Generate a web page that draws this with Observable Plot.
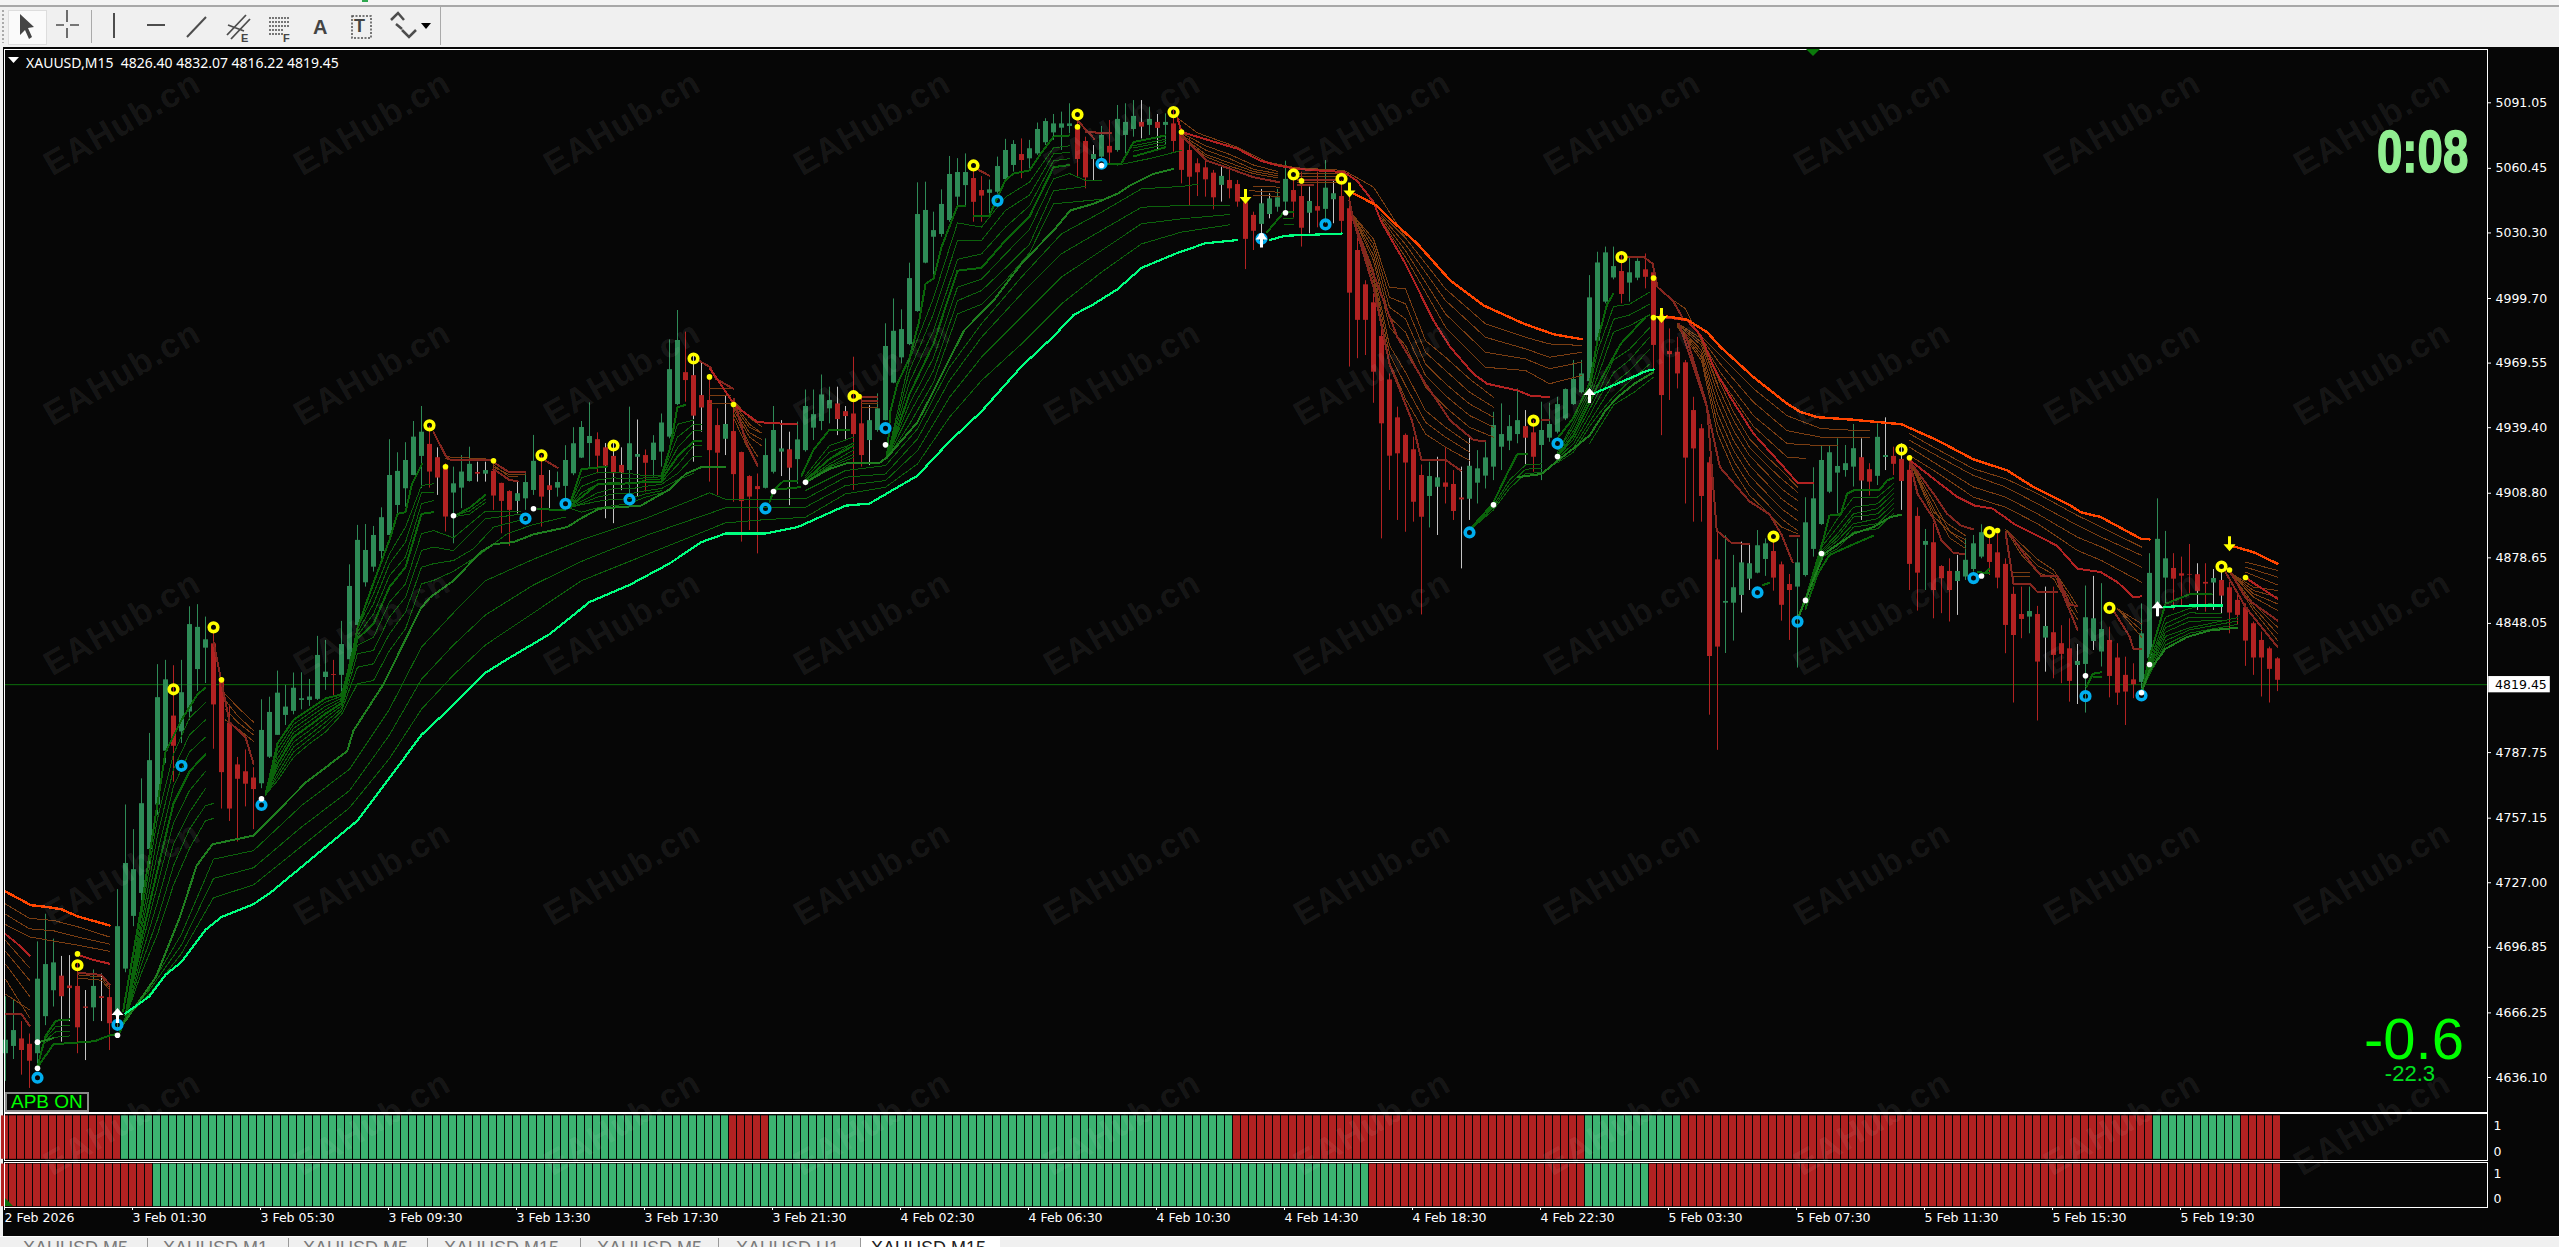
<!DOCTYPE html>
<html><head><meta charset="utf-8">
<script src="https://cdn.jsdelivr.net/npm/d3@7"></script>
<script src="https://cdn.jsdelivr.net/npm/@observablehq/plot@0.6"></script>
<style>
html,body{margin:0;padding:0;background:#f0f0f0;width:2559px;height:1247px;overflow:hidden}
#page{position:relative;width:2559px;height:1247px;overflow:hidden;font-family:"Liberation Sans",sans-serif}
#page>*{position:absolute}
.wm{font:bold 34px "Liberation Sans";letter-spacing:1.5px;color:rgba(255,255,255,.085);transform:translate(-50%,-50%) rotate(-30deg);white-space:nowrap;pointer-events:none}
.tab{font:18px "Liberation Sans";color:#7a7a7a;white-space:nowrap;top:1238px;line-height:20px}
svg{overflow:visible}
</style></head><body><div id="page"></div>
<script>
// ---- candles, bar 0 = 2 Feb 2026, one bar every 15 minutes ----
const bodyTop=[4653.5,4658,4654.1,4651.6,4682,4688.8,4689.6,4683.4,4678.8,4678.6,
4669,4678.6,4673.8,4673.4,4706.5,4736,4733.1,4763.9,4784,4813.4,
4821.7,4804.8,4815.7,4847.5,4846.2,4840.4,4838.5,4821.7,4801.5,4782,
4778.8,4775.9,4798.1,4806.5,4815.5,4809,4817.8,4812.9,4813.7,4833.1,
4825.3,4824.2,4838.2,4865.3,4886.8,4882.1,4889.1,4897.4,4917.1,4919,
4924.1,4935,4937.3,4931.6,4925.4,4921,4913.2,4918.7,4922.3,4918.5,
4919.4,4919,4913.4,4909.6,4908.6,4913.8,4923.7,4917.1,4912.3,4913.8,
4924.1,4931.9,4939.5,4935.3,4933.8,4930,4926,4921.8,4931.9,4926.9,
4926.4,4932.2,4941.6,4966.5,4980.1,4965.1,4963.7,4954.4,4952.1,4940.4,
4940.9,4937.6,4927.8,4916.6,4911.9,4926.4,4938.1,4929.5,4929.1,4933.7,
4949.3,4945.5,4954.7,4952.1,4950.5,4946.9,4945.8,4941.2,4942.7,4948.2,
4977.3,4984.4,4985.2,5009,5038.9,5040.8,5031.4,5043.6,5057.6,5058.5,
5058.5,5055.7,5050.1,5050.4,5061.3,5068.8,5071.6,5066.9,5069.6,5078.6,
5082.3,5081.2,5081.2,5081.2,5079.7,5073,5066.9,5075.8,5070.7,5083.3,
5081.9,5084.7,5081.9,5083.3,5081.9,5081.9,5081.2,5077.4,5068.8,5062.6,
5060.7,5058.2,5056.7,5054.8,5052.9,5044.4,5038.5,5043.9,5046.2,5046.7,
5055.3,5050.1,5047.3,5045,5042.6,5051.2,5048.6,5047.3,5041.6,5022.1,
5006.1,4997.7,4982,4961.7,4944,4935.8,4929.1,4917.1,4916.6,4916,
4913.6,4912.9,4906.6,4921.4,4920.2,4925.3,4940.4,4936.2,4939.9,4942.7,
4939.9,4937,4938.1,4940.9,4950.2,4957.2,4961.9,4964.5,5000,5016.3,
5021,5014.6,5012.3,5011.7,5017,5013.1,5011.7,4992,4975,4974.6,
4969.7,4947.4,4938.9,4923,4877.7,4858.3,4864.7,4876.3,4875.9,4884.3,
4885.2,4881.6,4875.4,4866.2,4876.3,4895,4906.2,4924.1,4927.7,4921.3,
4922.6,4929.6,4925.4,4919.8,4934.9,4926.4,4926,4924.6,4919.5,4898,
4886.3,4885.7,4874.6,4872.3,4872.3,4877.5,4885.2,4890.4,4884.9,4881,
4875.6,4861.6,4852.2,4853.6,4852.2,4846.6,4843.7,4838.6,4836.2,4830.3,
4850.7,4850.2,4845.2,4840.1,4831.9,4823.8,4821.7,4843.2,4871.4,4887.3,
4878.2,4873.7,4871.2,4870.9,4870.8,4867.2,4869,4868.1,4864.7,4858.8,
4855.4,4847.9,4840.1,4836.2,4831.5];
const bodyBottom=[4647.2,4650.6,4648.7,4643.7,4647.2,4664.5,4676.6,4673.8,4677.6,4659.3,
4668.4,4668.6,4673,4661.2,4664.5,4686.7,4711.3,4722,4742.5,4763.3,
4788.4,4790.7,4797.4,4806.7,4826.5,4836.5,4810,4778.4,4761.4,4775.3,
4773,4770.5,4773.2,4785.6,4795.8,4805.1,4807,4812.1,4812.1,4812.6,
4822.8,4823.8,4823.8,4831.1,4847.1,4867,4874.3,4881.6,4889.1,4903.1,
4910.9,4917.1,4926,4918.7,4915.9,4897.7,4908.9,4911.2,4914.3,4917.7,
4917.7,4907.5,4905,4900.8,4905,4906.2,4910.1,4907,4910.1,4911.2,
4912,4917.9,4925.2,4932,4926.1,4921.5,4917.9,4918.2,4919.4,4925.6,
4922.8,4924.1,4928,4935,4950.2,4961.4,4944.8,4948.6,4928.7,4927.5,
4934,4917.5,4904.9,4907,4910.5,4911.1,4918.6,4928,4920.5,4924.5,
4928.7,4939.2,4942.3,4948.2,4943.2,4944.6,4936.2,4926.4,4933.4,4938.1,
4942.7,4960.2,4972,4978.2,4993.6,5016.2,5028.3,5029.6,5036.1,5047,
5052.4,5044.6,5047.5,5048.8,5049.3,5055.2,5061.8,5064.1,5064.9,5067.2,
5072.4,5077,5079.2,5080,5064.6,5056,5064.6,5065.7,5067.6,5068.8,
5075.8,5078.6,5079.7,5080.5,5079.1,5080.5,5073,5059.5,5056.3,5058.4,
5055.1,5046.7,5052.5,5050.9,5044.7,5027.3,5031.1,5034.3,5038.9,5042.3,
5044.7,5044.7,5032.5,5039.5,5040.5,5041.3,5045.8,5035.7,5002.2,4989.5,
4989.5,4965.3,4941.2,4926.1,4927.2,4922.9,4904.6,4897.6,4907.3,4911.6,
4911.6,4900.3,4905.7,4906,4913.5,4916.8,4921,4930.3,4933.1,4936.2,
4934.5,4925.6,4931.1,4934.5,4937.3,4943.5,4950.2,4955.7,4961,4979.8,
4998,5009.3,5001.6,5006.9,5009.2,5009.6,4977.8,4954.4,4973.5,4964.5,
4925.2,4929.5,4907.3,4832.6,4837,4857.5,4857.5,4861.1,4868.7,4871.5,
4877.9,4869.2,4856.5,4863.4,4865,4870.4,4882.6,4894.2,4909.3,4918.2,
4919.4,4921,4914.5,4914,4916.7,4925.5,4922.3,4914.3,4875.6,4871.5,
4884.5,4863.4,4868.9,4863.4,4867.6,4869.7,4873.2,4879,4876.5,4869.2,
4847.1,4842.4,4849.9,4851,4830,4841.2,4833.1,4833.6,4821,4828.4,
4828.9,4839.6,4834.7,4823.3,4815.5,4816,4819.4,4820.5,4831.6,4857.2,
4869.2,4868.7,4870.1,4870.6,4863,4866.4,4866.9,4860.8,4852.9,4851.8,
4839.8,4831.9,4831.9,4826.6,4821.5];
const highs=[4673.8,4672.2,4662.2,4656.4,4699.4,4712.3,4700.7,4692.6,4693,4690,
4676.7,4686.3,4684.4,4678.6,4723.8,4763.3,4751.8,4775.5,4796.7,4828.8,
4830.8,4828.3,4830.8,4855.8,4856.8,4851,4844.3,4821.7,4810,4785.5,
4789,4780.7,4812.4,4813.6,4825.8,4819.1,4824.9,4825,4821.9,4842,
4840.1,4830.8,4849,4875.4,4893.8,4894.2,4893.3,4902,4933.8,4927.7,
4932.4,4942.3,4949.3,4940,4930,4922.6,4921,4926.4,4930.3,4923.3,
4923.3,4924,4913.5,4910,4914,4917.9,4935.8,4926.4,4919.4,4918.7,
4931,4939.4,4942.3,4951,4937,4932,4932,4930,4949,4943,
4929,4935.7,4945.8,4980.4,4994.1,4984,4973.8,4970,4963.3,4948.2,
4954.4,4950.2,4928,4917,4917.8,4934.2,4949.3,4942.7,4937.3,4942,
4957,4957,4964,4958.3,4958.3,4949.3,4972.3,4953.6,4949.7,4955.2,
4987.9,4999.5,4994.4,5016.2,5053.7,5054,5040,5050.4,5066,5065,
5067.2,5059.7,5056.6,5055,5065.7,5074,5073.4,5074.2,5073.5,5081.6,
5083.6,5085.6,5086.7,5090.6,5082,5075,5071.1,5080,5082.8,5089.8,
5090.6,5092.1,5092.1,5089,5085.6,5085.9,5087.5,5078.1,5075,5064.9,
5064.4,5059.5,5061.8,5061,5054.8,5050.1,5040,5050.6,5048.6,5050.6,
5063.8,5054.8,5058.7,5051.7,5058.7,5064.1,5054.8,5054.8,5047,5028,
5008,5001.9,4984.8,4964.5,4949,4936.5,4935,4922,4923.3,4925.6,
4930.3,4919.4,4921,4935,4928.7,4932.6,4946.6,4950.5,4945.1,4957.5,
4947.4,4942.7,4951.3,4950.8,4953.6,4957.5,4970.8,4970.8,5010.4,5021.3,
5023.7,5023.7,5020.5,5018.7,5018.2,5020.5,5012,4994.1,4985.5,4981.6,
4970.8,4953.6,4940.9,4925.6,4890,4889,4879.8,4886,4885.2,4891.4,
4887.5,4886.8,4876.7,4870.9,4887.5,4906.7,4920.7,4930.7,4931,4934.2,
4931.1,4940.9,4934.2,4922.6,4941.2,4944,4930.3,4931.9,4925,4902,
4891.9,4894.6,4875,4878.2,4879.8,4887.6,4889.1,4894.1,4888.3,4889.9,
4878.2,4865,4865,4865,4856,4865,4865,4847,4850.2,4838.2,
4865.5,4870,4866.6,4846.3,4838.6,4832.3,4829.2,4857.2,4880.6,4906.2,
4891,4880.6,4879,4884.9,4875.9,4875.9,4873.2,4872.8,4867.3,4861.1,
4857.2,4848.7,4844,4837,4832.07];
const lows=[4634.3,4644.5,4637.2,4631,4642,4660.3,4669,4652.6,4662.2,4647.2,
4644,4662.2,4662.2,4648.7,4658,4685,4706.5,4718,4735.4,4758.5,
4782.6,4773.9,4792,4802.8,4816.3,4820,4789.3,4761.4,4755.6,4746,
4762.4,4751.8,4770.9,4785,4795.8,4800.4,4805.4,4807.7,4809.3,4812.1,
4816.8,4813.6,4815.2,4831,4847,4865,4872,4875.9,4889,4899.2,
4902.3,4917,4911,4911.2,4907.8,4890.7,4885.2,4901.6,4914,4914,
4914,4900.8,4889.9,4884,4899.2,4900.8,4907.8,4893,4901.6,4907,
4905.4,4917,4925,4921,4917.9,4896.9,4894.6,4910,4908.6,4907,
4909.3,4916.3,4921,4934.2,4949.7,4951.3,4923.3,4937.3,4914,4907.7,
4926.4,4904.6,4886,4891.4,4880.5,4910.8,4917.8,4916.6,4903,4913,
4928,4933.4,4938,4941.2,4935.7,4933.4,4910.1,4921,4921.7,4937.3,
4942.6,4959.9,4969.2,4977.7,4993.3,5015.9,5010.4,5028.3,5035.3,5041.5,
5043.1,5035.3,5035.3,5039.2,5048.5,5054.8,5058.7,5055.6,5060.2,5066.5,
5071.1,5073.5,5068.8,5076.6,5056.3,5050.9,5054.5,5064.1,5062.6,5068,
5067.2,5075,5074.2,5075.8,5069.1,5071.1,5068,5053.2,5043.1,5047.3,
5047,5041.1,5044.7,5046.2,5042.3,5013.2,5022.1,5026,5036.9,5040,
5040.8,5036.9,5023.7,5029.9,5032.7,5034.6,5034.6,5029.1,4967.7,4971.6,
4973.1,4950.8,4887.5,4910.1,4896.1,4890.6,4895.3,4852,4892.6,4889.1,
4903.8,4896.1,4873.5,4896.1,4903.8,4910.8,4914.7,4919.4,4928.7,4931.9,
4921.7,4918.6,4914.7,4932.6,4936.5,4942.7,4949.8,4955.2,4960,4979.3,
4997.2,5008.4,4997.2,4998,5008,5004.2,4964.5,4935.7,4952.1,4957.5,
4903.8,4895.3,4895.3,4805.2,4788.8,4834,4839.8,4852.9,4863.4,4871.2,
4870,4863.1,4849.1,4840.1,4827.2,4869.7,4879,4893.8,4908.6,4899.2,
4916.3,4911.7,4896.1,4907.5,4912.4,4919.4,4917.1,4900.8,4863.4,4853.8,
4863.4,4850.2,4852.6,4848.7,4851.8,4868.1,4872,4878.2,4870.4,4864.2,
4833.9,4810.9,4840.9,4843.2,4802.5,4825.3,4822.2,4819.9,4811.3,4810.2,
4806.2,4835.4,4827.7,4813.3,4809.8,4800.4,4812.9,4815.2,4828.9,4851,
4857.2,4854.1,4856.4,4861.1,4854.1,4853.3,4854.1,4852.6,4843.2,4847.1,
4828,4823.8,4813.7,4810.9,4816.22];
const upBar=("ggrrgggrrr"+"rgrrgggggg"+"grggggrrrr"+"rrgggggggg"+"grgggggggg"+"gggrrrgggr"+"grrrgggrrg"+"ggggrrrrgg"+"rggggrrrrr"+"grrrrgggrg"+
"ggggrrrrgg"+"gggggggggg"+"grrggggrgg"+"ggggrrggrg"+"ggrgrgrrrr"+"rrgrrrrggg"+"grrgrggrrr"+"rrrrrrrrgg"+"rrrggggggg"+"rrgggggggg"+
"ggrggrrrrr"+"rrrrrggggg"+"grrrgggggg"+"ggrrggrrrr"+"grrrggggrr"+"rrrgrgrrrg"+"gggrrrrggg"+"grrrrrgrrr"+"rrrrr").split("");
const greyWickBars=[7,8,10,12,54,59,60,64,68,75,76,77,79,86,87,90,97,98,104,105,108,136,142,144,152,157,158,163,166,179,182,183,190,217,218,232,235,237,244,255,259,261,274,276,277];

// ---- slow ribbon line: bar, price pairs ----
const slowGreen=[[15,4666,18,4674,20,4684,22,4690,25,4705,27,4711,31,4717,33,4722,44,4756,47,4771,52,4796,56,4810,60,4825,63,4832,68,4843,73,4858,78,4866,83,4876,87,4886,90,4890,95,4890,99,4893,105,4903,108,4904,114,4917,116,4925,118,4933,122,4947,127,4968,131,4982,133.5,4992,136,4997,139,5004,142,5014,146.5,5021,150,5025.5,154,5027],
[158,5027,160,5029,167,5030],[198.6,4955.5,201.5,4960,205.2,4966,206,4966.6],[269.8,4855.7,273.1,4856.4,277.1,4856.4]];
const slowRed=[[0,4722.9,3.2,4716.5,5,4715.8,7,4714.6,9,4711.3,13,4707.1],
[168.6,5048.6,171.4,5043.1,173.5,5035.3,176.5,5025.2,180.6,5008.1,184.8,4996.4,189.8,4987.9,193.6,4982.9,197.1,4980.7],
[207.7,4991.3,210.2,4989.8,212.7,4984,214.4,4977,218.5,4963,222.7,4950.6,224.4,4946.7,226.5,4944.3,231,4943.1,237,4941,241.5,4933.5,246,4924.6,250.2,4919.5,253.5,4911.7,258.1,4903.1,259.4,4900,261.9,4897.7,266.9,4887.6,268,4887.3],
[278.5,4884,281,4881.3,284,4875.9]];

// ---- middle ribbon line ----
const midGreen=[[4,4652.5,6,4654.5],
[14.7,4661,18.8,4683,21.8,4711,23.9,4735,25.9,4745,31,4749,33,4756.6,37.6,4774,42.7,4788.4,43.5,4798,47.3,4820,51.9,4855,53.1,4860.3,56,4868,59.4,4881.3,61,4885,63.5,4886,66,4889.6,70.2,4893,71.9,4897,74.2,4901.6,79.4,4903,83.1,4910.8,85,4917.8,87,4921,90,4921],
[100,4913.9,103,4920.2,105.2,4922.8,109.2,4922.8,110.2,4925.6,114,4942,115.6,4953.6,119.8,4984.7,123.5,4998.7,127,5016,131,5031.4,133.1,5040.8,136,5043.9,139,5048.6,140.6,5052.5,143.5,5057.9,146,5060.2],
[189,4916.3,192,4917.8,193.8,4923.3,198,4935.7,200,4947.4,201.5,4953.6,203.6,4959.9,206,4965.3],
[224.2,4851.8,227.3,4880.5,231,4889.9,233.5,4893,235.6,4897.7,237,4898.8],
[267,4816,268,4826,270,4836.2,272.7,4841.7,275.6,4844.8,279,4846]];
const midRed=[[0,4703,1.4,4698.8,3,4693],[9,4693.4,11,4691,13,4689.2],
[88.1,4966.8,91.2,4949.7,94,4942,98.9,4940.9],
[146.5,5084,147,5077.4,150.6,5073.4,154,5069.6,156.8,5064.1,159,5061.8,161.4,5060.2,164,5059.5,167.3,5058.7,168.9,5054.8,171,5044.7,172,5035.3,175,5015.9,178.5,4989.4,180.6,4977,183.5,4964.5,185.2,4959.9,189,4956.8,190.6,4954.4,193,4953.6],
[207.3,4991,210.2,4989.5,211.9,4982.5,213.5,4967.7,215.6,4953.7,218.5,4936.6,221.9,4922.6,224,4913.7,226,4913.5],
[238.1,4924.1,241,4915.6,244,4907,246.1,4903.1,248.4,4901.6,250.2,4896.9,251,4894.6,253.5,4889.9,256.4,4884.4,259,4873.6,261.9,4872,264,4867.3,266,4860.3,267,4860.7],
[280,4869.4,284,4859.5]];

// ---- fast ribbon line and heavier inner lines ----
const fastGreen=[[4.2,4642,6,4651.6,11.1,4653,13.2,4656,14.2,4656.4,15,4664],[4,4641,5,4655.5,6.3,4662.6,8,4663.2],
[14.7,4667,17,4716,19,4764,20,4788,22,4803,24,4815,25,4818],[15,4665,17,4701,19,4733,21,4764,23,4779,25,4787],
[32.5,4768,34,4792,36,4803,38,4808,40,4813,42,4815,43,4826,44,4846,46,4867,48,4887,49,4899.2,50,4900,50.8,4913,52.1,4922.6],
[32.5,4768,34,4782.5,36,4795,38,4800.4,40,4805.9,42,4810.8,44,4840.9,46,4847.9,48,4865,50,4874.3,52,4899.2,53.5,4900],
[56.2,4898.4,58,4902,60,4908],[66.5,4901.5,70,4900.8],[70.4,4902,72,4920,75.2,4921.3],[70.4,4902,72,4907,74,4913,76,4913,80,4914,82,4914],
[82,4917,83,4929,84,4949,85,4950],[82,4915,84,4926,86,4933,87,4933],
[95.5,4904.6,96,4910,97.3,4914.7,99,4914.7],[96,4910.4,99.3,4911.6],
[99.5,4917,101,4929,103,4938.5,105.5,4938.5],[100,4915,103,4924.8,106,4931],
[110.2,4925.6,110.6,4947,111.5,4960,113,4972,114.2,4989,115,5006.5,116,5009,117,5023.6,119,5043,120,5043],
[110.2,4925,113,4955,116,4978.5,119,5012.7,122,5014,125,5026.8,128,5038,131,5061,133,5062],
[121,5038.4,123,5038.4,124,5047,125,5055,126,5058,128,5059.5,129.4,5067.2,131,5075.3,133,5075.8],
[137.3,5062.3,139.4,5062.3,141,5072.7,145,5075.8],[141,5066,145,5070.3],
[157.7,5030.7,159.8,5040,161,5040],
[183.3,4893,185.9,4903.8,187.7,4917.8,189,4927.2,190.2,4927.2],
[193.5,4932,196,4944,198,4960,199,4980,200.2,4997,201,5002],[194,4926,196,4936,198,4951,199,4959,201.9,4978.5,205,4991],
[224.2,4851.8,226,4869.6,228,4898.4,229.4,4899,230.2,4908.6,231,4910.1,234.2,4910.1,235.2,4914.8,236,4916],
[225,4855,226.5,4871,228,4880,231,4885,233.5,4889],
[219.7,4866,220.5,4867],[246.5,4872,248,4871.5],[247.2,4871,248,4873.6],[260.1,4818.4,260.9,4824.5,262,4825.3],[261,4823,262,4823],
[267,4816,268,4832.3,270,4857.2,273,4861.6,275.8,4861.6]];
const fastRed=[[0,4665.7,2,4665.7,3,4660.3],[9,4685,12,4684,13,4679.5],[26,4839.4,28,4801.9,30,4795,31,4782.6],
[53.5,4937.3,55,4926.5,55.6,4924.4,60.6,4924.4],[61,4923.3,62.9,4918.7,65,4918.7],[61,4920,63,4915,64.1,4914.3],[67.5,4924,69,4920.7],
[86.7,4970.7,88.1,4967.6,88.8,4962.2,91,4957.5],[91,4953,92.5,4933.4,94,4921.7],
[107,4953.6,109,4953.6],[107,4952,109,4952],[121.5,5060,123,5057],[134,5082.8,136.1,5074.2],[135,5077.3,138.2,5077],
[147,5075.8,150.2,5064,151.9,5061.8,156,5056.3,159.2,5054],
[161.5,5055,166.5,5055],[161.5,5052.5,163.5,5052.5],
[168,5045.4,168.5,5036.1,171,5005,173,4969.2,175.8,4942.7,177,4924.4,180,4924.4,181.9,4919.4],
[168.5,5036,171,5011,174,4981.6,177.3,4961,180.6,4942.7,183.5,4933.7,185,4933],
[192,4943,193,4943],[202.7,5019,204.8,5019,205.9,5015.9,206.5,5005,208.4,4998.8,209.6,4991],
[209.2,4987.9,212.7,4949,213.9,4891.4,215.8,4885.5,218,4885.2],
[210,4983,212.5,4952,214.3,4921,218,4905,220.5,4899,222,4889.5,223.4,4876.6],[223,4889,224.2,4889],
[238,4924,239,4908.6,241,4896.9,242,4886.8,243.5,4880.9,244.8,4880.5],[238,4924,241,4908.6,242.7,4899.2,244.4,4893.8,246,4891.9],
[250,4890.7,251,4866.6,253,4866.6,254,4862.7,256.4,4862.7],[256.5,4868,259,4845],[250.5,4890,253,4877,254.5,4870,256.5,4870,258,4857,259,4856],
[263.5,4854,265.5,4842,266,4836,267,4836],[277.5,4872,280,4855.7,284,4837],[278,4872.8,280,4860,284,4849.4]];

// ---- thin ribbon lines ----
const thinGreen=[[5,4654.5,6.3,4660,8,4660.3],[5,4653.5,6.3,4657.5,8,4657.5],[5,4652.6,6.3,4654.9,8,4655.5],
[15,4664,18,4675,22,4694,26,4720,31,4726,37,4744,43,4762,48,4785,52,4808,56,4824,60,4838,66,4853,72,4868,80,4880,90,4895,95,4896.5,100,4897.6,105,4908.5,110,4911.6,114,4922.5,118,4944.3,122,4961.4,127,4978.5,132,4997.2,137,5012,142,5025.2,147,5030.7,153,5034.1],
[15,4664,18,4677,22,4698,26,4729,31,4734,37,4753,43,4770,48,4796,52,4822,56,4838,60,4852,66,4866,72,4877,80,4889,90,4902,95,4902.3,100,4902.3,105,4912.4,110,4914.7,114,4928.7,118,4953.6,122,4972.3,127,4991,132,5009.7,137,5022.1,142,5034.6,147,5036.9,153,5038.9],
[15,4664,18,4678,22,4703,26,4738,31,4742,37,4763,43,4780,48,4808,52,4837,56,4853,60,4868,66,4878,72,4887,80,4897,88,4909,90,4906,95,4906,100,4906.2,105,4916.3,110,4917.8,114,4934.2,118,4961.4,122,4981.6,127,5001.9,132,5020.6,137,5031.5,142,5042.3,147,5043.1,153,5043.1],
[100,4910.1,105,4919.4,110,4921.7,114,4938.8,118,4967.6,122,4987.9,127,5009.7,132,5029.9,137,5040,142,5050.9,147,5052,149,5053],
[15,4666,17,4712,19,4757,21,4787,23,4804,25,4811],[15,4666,17,4708,19,4749,21,4780,23,4796,25,4803],[15,4665,17,4705,19,4741,21,4772,23,4788,25,4795],
[15,4665,17,4697,19,4726,21,4755,23,4770,25,4779],[15,4664,17,4693,19,4718,21,4745,23,4760,25,4771],[15,4664,17,4689,19,4710,21,4735,23,4752,25,4763,26,4764],[15,4664,17,4685,19,4703,21,4726,23,4743,25,4756,26,4757],
[32.5,4768,34,4789.5,36,4800.9,38,4806.2,40,4811.3,42,4814.1,44,4845.5,46,4861.9,48,4880.5,50,4893,52,4912.4,53.5,4913.2],
[32.5,4768,34,4787.2,36,4799,38,4804.3,40,4809.4,42,4813,44,4844,46,4857.2,48,4875.9,50,4886,52,4909.3,53.5,4909.3],
[32.5,4768,34,4784.8,36,4797.1,38,4802.4,40,4807.7,42,4812.1,44,4842.4,46,4852.5,48,4870.4,50,4879,52,4903.9,53.5,4905.4],
[32.5,4768,34,4780.2,36,4792.6,38,4798.1,40,4804,42,4809.6,44,4837.8,46,4841.6,48,4858,50,4866.5,52,4889.9,53.5,4891.4,56,4888,60,4900.5,64.4,4900.5],
[32.5,4768,34,4777.9,36,4790.3,38,4796,40,4802,42,4808.3,44,4833.9,46,4835.4,48,4851,50,4860.3,52,4882.1,53.5,4883.7,56,4882,60,4896.9,64.7,4899.2],
[32.5,4768,34,4776.3,36,4788,38,4794,40,4800,42,4807.1,44,4827.6,46,4829.2,48,4843.2,50,4853.3,52,4874.3,53.5,4875.9,56,4877.4,58.5,4882.9,61,4893,65,4896.9],
[32.5,4768,34,4774.7,36,4785.6,38,4791.9,40,4797.3,42,4805.5,44,4819.9,46,4821.4,48,4835.4,50,4845.5,52,4866.5,53.5,4868.1,56,4872.4,59.4,4880.5,62.7,4889.9,66,4894.2,70,4897.7],
[56.2,4898.4,58,4900.5,60,4906],[56.2,4898,58,4899,60,4904.5],
[70.4,4902,72,4916,74,4918.5,76,4918.5,78,4918,80,4917,82,4917],[70.4,4902,72,4912,74,4915,76,4916,78,4915.5,80,4916,82,4916.5],[70.4,4902,72,4909,74,4913,76,4914,78,4913,80,4915,82,4915.5],
[70.4,4902,72,4905,74,4909,76,4911,78,4910.8,80,4912,82,4913],[70.4,4902,72,4904,74,4907,76,4908.5,78,4908.5,80,4910,82,4911],[70.4,4902,72,4903.5,74,4905,76,4906,78,4906.2,80,4908.5,82,4910],[70.4,4902,72,4900,74,4902,76,4903,78,4904,80,4907,82,4909],
[82,4917,84,4941,86,4943],[82,4916.5,84,4935,86,4941,87,4941],[82,4916,84,4930,86,4938,87,4938],[82,4914,84,4922,86,4931,87,4931],[82,4913,84,4918,86,4926,87,4926],[82,4911,84,4915,86,4918],
[100,4917,103,4931,106,4935],[100,4916,103,4928,106,4932],[100,4915,103,4925,106,4932.5],[100,4915,103,4922.5,106,4929],[100,4914,103,4921.5,106,4927],[100,4914,103,4921,106,4925.5],
[110.2,4925.6,113,4971,116,5000,119,5035,122,5033,125,5047,128,5054,131,5070,133,5071],[110.2,4925,113,4966,116,4992.5,119,5026.7,122,5026.8,125,5040.8,128,5048,131,5067.2,133,5068],[110.2,4925,113,4960.6,116,4984.7,119,5018,122,5020.5,125,5033,128,5043,131,5064,133,5065],
[110.2,4925,113,4950.5,116,4972,119,5005,122,5008.7,125,5020.5,128,5032,131,5055.6,133,5058,135,5054.8,137,5054.8],[110.2,4925,113,4946,116,4966,119,4998.7,122,5003.4,125,5014,128,5025,131,5050,135,5052],[110.2,4925,113,4941,116,4960.6,119,4992.5,122,4997,125,5008,128,5021,131,5043.9,137,5046],
[141,5071,145,5074],[141,5070,145,5073],[141,5068.5,145,5071.5],[139,5062,143,5065,147,5068.8],
[159.8,5037,161,5037.3],[159.8,5034,161,5034.2],
[183.5,4893,186,4903,188,4915,190,4922,192,4922.5],[183.5,4893,186,4902,188,4913,190,4920,192,4920.5],[183.5,4893,186,4901,188,4911,190,4918,192,4918.5],
[194,4928,196,4942,198,4957,199,4975,201,4996,203,4997,205.5,5002.6],[194,4928,196,4940,198,4955,199,4968,201,4990,203,4992,205.5,4997],[194,4927,196,4938,198,4953,199,4963,201,4984,203,4987,205.5,4992],
[194,4926,196,4934,198,4948,199,4955,201,4971,203,4976,205.5,4986],[194,4925,196,4932,198,4945,199,4952,201,4965,203,4971,205.5,4981.6],[194,4924,196,4930,198,4942,199,4948,201,4960,203,4966,205.5,4976],[194,4923,196,4928,198,4940,199,4945,201,4954,203,4961,205.5,4969],
[198,4932,201,4950,203.6,4956,206,4963],
[225,4860,227,4885.2,229,4896.9,231,4907,234,4907,236,4913.2],[225,4860,227,4883.7,229,4893,231,4902.3,234,4903.9,236,4910.9],[225,4859,227,4882,229,4889.9,231,4899.2,234,4901.6,236,4908.6],[225,4859,227,4881.3,229,4888.3,231,4897.7,234,4899.2,236,4906.2],
[225,4859,227,4880.5,229,4886.8,231,4894.6,234,4896.9,236,4903.9],[225,4858,227,4879.8,229,4884.4,231,4893,234,4894.6,236,4901.6],[225,4858,227,4879,229,4882.9,231,4890.7,234,4892.2,236,4899.2],
[267,4816,268,4830,270,4851,273,4855,275.8,4857.5],[267,4816,268,4829,270,4848,273,4853,277,4852.5],[267,4816,268,4828,270,4846,273,4851,277,4851],[267,4816,268,4827,270,4844,273,4849,277,4849.5],
[267,4816,268,4826,270,4842,273,4846,279,4850.7],[267,4816,268,4825,270,4840,273,4845,279,4849.2],[267,4816,268,4824,270,4838,273,4843.5,279,4847.6]];
const thinRed=[[0,4717.1,3,4710.4,6,4709.4,9,4706.5,13,4701.7],[0,4712.3,3,4705.5,6,4704.6,9,4701.7,13,4698.4],[0,4707.5,3,4701.7,6,4699.8,9,4697.9,13,4695],
[0,4700,3,4687.3],[0,4695,3,4681.5],[0,4689,3,4674],[0,4682,3,4664],[0,4675,3,4667.7],[9,4684,12,4683,13,4678],[9,4682.5,12,4681.5,13,4677],
[27.5,4815,29,4809,31,4802],[27.5,4812,29,4805,31,4798],[27.5,4808,29,4802,31,4796],[27.5,4803,29,4799,31,4793],
[55,4926,56,4925.5,60,4925],[55,4925,56,4924,60,4924],[61,4922,63,4916.4,64,4916.4],[61,4921,63,4917.5,65,4917.5],
[88,4957.5,90.6,4957.5],[88,4954.4,90.6,4954.4],[88,4950.5,90.6,4950.5],
[91,4952,93,4944,94.5,4940],[91,4951,93,4941,94.5,4937],[91,4950,93,4939.5,94.5,4937],[91,4949,93,4937,94.5,4934],[91,4948,93,4935,94.5,4931],[91,4946,93,4932,94,4926],[91,4944,92.5,4932,93.5,4925],
[107,4950.5,109,4950.5],[107,4949,109,4949],
[146.5,5084,149,5077,154,5070.3,157.8,5063.3,161.4,5060.7,167.3,5059.5,171,5051.7,173,5040,175,5028],
[147,5077,150,5071,153,5067,156,5062,159,5059],[147,5076,150,5069,153,5065,156,5060,159,5058],[147,5075.5,150,5067,153,5063,156,5059,159,5057],[147,5075,150,5066,153,5061.5,156,5058,159,5056],
[156,5052,159.3,5051.7],[155.5,5050,159.3,5049.3],[156,5048,159.3,5047.3],
[161.5,5058,167,5057.8],[161.5,5056.5,167,5056.5],[161.5,5053.7,167,5053.7],
[168.5,5036.1,171,5008.1,173,4970,175,4952.9,177.5,4936.5,180,4930.3,183,4924.1],[168.5,5036.1,171,5010.4,173,4973.9,175,4959.1,177.5,4942,180,4935,183,4928],[168.5,5036.9,171,5012.8,173,4977.8,175,4965.3,177.5,4947.4,180,4939.6,183,4931.8],
[168.5,5037.7,171,5017.4,173,4986.3,175,4977.8,177.5,4958.3,180,4949,183,4939.6,186,4935],[168.5,5037.7,171,5019.8,173,4991,175,4984,177.5,4963.7,180,4954.4,183,4945.1,186,4939.6],[168.5,5037.7,171,5022.9,173,4995.6,175,4990.2,177.5,4969.2,180,4959.9,183,4950.5,186,4944.3],[168.5,5038.4,171,5025.2,173,5000.3,175,4997.2,177.5,4974.6,180,4966.1,183,4956,186,4949],[168.5,5038.4,171,5027.5,173,5005,175,5004.2,177.5,4980.1,180,4972.3,183,4962.2,186,4953.6],
[172,5039,175,5028,180,5004.2,185,4987.9,190,4981.6,193,4978.5,197,4977.8],[172,5038,175,5025,180,4998.8,185,4981.6,190,4976.2,193,4972.3,197,4974.6],[172,5037,175,5022,180,4992.5,185,4974.6,190,4971.5,193,4966.9,197,4970],[172,5036,175,5019,180,4986.3,185,4967.6,190,4966.1,193,4959.9,197,4963.7],
[206.5,5005,208.4,4999,210,4995,212,4980,214,4960],
[209,4986.4,212,4970.8,214,4936.6,216,4919.4,218,4907.8,220,4900.8,222,4893,224,4889.9],[209,4986.7,212,4972.3,214,4941.2,216,4924.1,218,4912.4,220,4904.7,222,4896.9,224,4891.4],[209,4987,212,4973.9,214,4945.9,216,4928.8,218,4917.1,220,4909.3,222,4901.6,224,4896.1],[209,4987.3,212,4975.5,214,4950.6,216,4933.4,218,4921.8,220,4914,222,4906.2,224,4900.8],
[209,4987.6,212,4977.8,214,4955.2,216,4938.1,218,4926.4,220,4918.7,222,4910.9,224,4905.4],[209,4987.9,212,4979.3,214,4959.1,216,4942.8,218,4930.3,220,4922.6,222,4915.6,224,4909.3],[209,4988.2,212,4980.9,214,4963,216,4946.7,218,4934.2,220,4926.4,222,4919.4,224,4911.7],
[212,4982,214.4,4973,218.5,4957.6,222.7,4945,226.9,4939,231,4938.2,233,4938],[212,4981,214.4,4969,218.5,4951.3,222.7,4938,226.9,4935,233,4935],[212,4980,214.4,4965,218.5,4945,222.7,4932,226.9,4931,229,4931],[212,4979,214.4,4962,218.5,4940,222.7,4925.7,225,4925],
[238,4936.6,241,4930.3,246,4920.2,250,4915.6,254,4908.6,259,4898.4,262,4893,267,4883.7],[238,4933.5,241,4927.2,246,4917.1,250,4911.7,254,4903.9,259,4893.8,262,4888.3,267,4879.8],[238,4930.3,241,4923.3,246,4911.7,250,4907,254,4899.2,259,4888.3,262,4883.7,267,4874.3],[238,4926.5,241,4919.5,246,4907,250,4902.3,254,4894.6,259,4882.1,262,4877.4,267,4867.3],
[238,4924,241,4905,243,4891,245,4885],[238,4924,241,4902,243,4888,245,4883],[238,4924,241,4900,243,4894,245,4889],[238,4924,241,4898,243,4891,245,4887],
[250,4892,252,4885,254,4878,256,4873,258,4862,259,4856],[250,4892,252,4883,254,4875,256,4871,258,4860,259,4853],[250,4892,252,4880,254,4872,256,4869,258,4856,259,4850],[251,4870,253,4870],[251,4872,253,4872],
[264,4854.9,267,4847.9],[264,4854.9,267,4844.8],[264,4854.9,267,4841.7],
[280,4876.7,284,4872.8],[280,4874.3,284,4869.7],[280,4872,284,4866],
[278,4872,281,4865,284,4863.4],[278,4872,281,4863.4,284,4860.3],[278,4872,281,4861.9,284,4857.2],[278,4872,281,4860.3,284,4854.1],[278,4872,281,4857.2,284,4846.3],[278,4872,281,4855.7,284,4843.2],[278,4872,281,4854.1,284,4840.1]];

// ---- signals: bar, price pairs ----
const yellowRings=[9,4688.5,21,4817.3,26,4846.2,53,4940.5,67,4926.5,76,4931.1,86,4971.7,106,4954.1,121,5061.8,134,5085.6,146,5086.7,161,5057.6,167,5055.6,191,4942.7,202,5019,221,4888.6,237,4929.2,248,4890.7,263,4855.3,277,4874.6];
const blueRings=[4,4636,14,4660.7,22,4781.6,32,4763.3,65,4897,70,4903.9,78,4905.9,95,4901.7,110,4939.2,124,5045.4,137,5062.6,157,5027.6,165,5034.3,183,4890.5,194,4932,219,4862.5,224,4848.9,246,4869.2,260,4814.1,267,4814.4];
const whiteDots=[4,4652.6,4,4640.4,14,4655.8,32,4766.2,56,4898.3,66,4901.6,96,4909.6,100,4913.9,110,4931.4,137,5061.8,160,5039.7,157,5029,186,4903.4,194,4925.9,225,4858.8,227,4880.7,247,4870.2,260,4823.6,268,4828.9,267,4815.7];
const yellowDots=[9,4693.8,27,4821.7,55,4921.2,61,4924,88,4963.1,91,4950.2,106.7,4953.9,134,5079.8,147,5077.4,162,5054.6,206,5009.3,206,4990.8,238,4925.4,249,4891.4,278,4873,280,4869.5];
const upArrows=[14,4665,157,5027,198,4954.4,269,4854.9];
const downArrows=[155,5047.3,168,5050.4,207,4991.8,278,4885.2];

// ---- axes and labels ----
const priceTicks=[5091.05,5060.45,5030.30,4999.70,4969.55,4939.40,4908.80,4878.65,4848.05,4787.75,4757.15,4727.00,4696.85,4666.25,4636.10];
const lastPrice=4819.45;
const timeTickBars=[0,16,32,48,64,80,96,112,128,144,160,176,192,208,224,240,256,272];
const timeLabels=["2 Feb 2026","3 Feb 01:30","3 Feb 05:30","3 Feb 09:30","3 Feb 13:30","3 Feb 17:30","3 Feb 21:30","4 Feb 02:30","4 Feb 06:30","4 Feb 10:30","4 Feb 14:30","4 Feb 18:30","4 Feb 22:30","5 Feb 03:30","5 Feb 07:30","5 Feb 11:30","5 Feb 15:30","5 Feb 19:30"];
// indicator state runs: first bar, last bar, state (1 = up)
const panel1Runs=[[0,14,0],[15,90,1],[91,95,0],[96,153,1],[154,197,0],[198,209,1],[210,268,0],[269,279,1],[280,284,0]];
const panel2Runs=[[0,18,0],[19,170,1],[171,197,0],[198,205,1],[206,284,0]];
const tabNames=["XAUUSD,M5","XAUUSD,M1","XAUUSD,M5","XAUUSD,M15","XAUUSD,M5","XAUUSD,H1","XAUUSD,M15"];

// ---- styling ----
const BULL="#2E8B57",BEAR="#B22222",BULL2="#3CB371",AXISFONT="'DejaVu Sans'";
const xScale={domain:[0,284],range:[5,2277],axis:null};
const bars=bodyTop.map((t,i)=>({i,top:t,bottom:bodyBottom[i],high:highs[i],low:lows[i],up:upBar[i]==="g",grey:greyWickBars.includes(i)}));
const pairs=a=>d3.range(0,a.length,2).map(k=>({i:a[k],p:a[k+1]}));
const ribbon=(lines,stroke,strokeWidth)=>Plot.line(lines.flatMap((a,id)=>pairs(a).map(d=>({...d,id}))),{x:"i",y:"p",z:"id",stroke,strokeWidth,shapeRendering:"crispEdges"});
// Wingdings-like block arrow: thin stem, broad head
const blockArrow={draw(c,l){c.moveTo(-1.5,0);c.lineTo(-1.5,-l+7);c.lineTo(-6,-l+7);c.lineTo(0,-l);c.lineTo(6,-l+7);c.lineTo(1.5,-l+7);c.lineTo(1.5,0);c.closePath();}};

const main=Plot.plot({
  width:2559,height:1113,marginTop:49,marginLeft:4,marginRight:72,marginBottom:1,
  x:xScale,
  y:{domain:[5091.05,4636.10],range:[102.3,1077],axis:null},
  style:{background:"transparent",fontFamily:AXISFONT,fontSize:"12.5px",color:"#fff"},
  marks:[
    Plot.ruleY([lastPrice],{stroke:"#0b6e0b",strokeWidth:1}),
    Plot.ruleX(bars,{x:"i",y1:"low",y2:"high",stroke:d=>d.grey?"#c4c4c4":(d.up?BULL:BEAR),strokeWidth:1}),
    Plot.rect(bars,{x1:d=>d.i-0.25,x2:d=>d.i+0.375,y1:"bottom",y2:"top",fill:d=>d.up?BULL:BEAR}),
    ribbon(thinGreen,"#0c620c",1),
    ribbon(thinRed,"#7a3d12",1),
    ribbon(fastGreen,"#0a650a",2),
    ribbon(fastRed,"#85261f",2),
    ribbon(midGreen,"#1f7f1f",2),
    ribbon(midRed,"#B22222",2),
    ribbon(slowGreen,"#00FF7F",2.2),
    ribbon(slowRed,"#FF4500",2.4),
    Plot.dot(pairs(yellowRings),{x:"i",y:"p",r:4.3,stroke:"#FFFF00",strokeWidth:3.6,fill:"none"}),
    Plot.dot(pairs(blueRings),{x:"i",y:"p",r:4.3,stroke:"#00AEEF",strokeWidth:3.6,fill:"none"}),
    Plot.dot(pairs(whiteDots),{x:"i",y:"p",r:2.8,fill:"#fff"}),
    Plot.dot(pairs(yellowDots),{x:"i",y:"p",r:2.8,fill:"#FFFF00"}),
    Plot.vector(pairs(upArrows),{x:"i",y:"p",length:15,rotate:0,anchor:"middle",shape:blockArrow,fill:"#fff",stroke:"none"}),
    Plot.vector(pairs(downArrows),{x:"i",y:"p",length:15,rotate:180,anchor:"middle",shape:blockArrow,fill:"#FFFF00",stroke:"none"}),
    Plot.axisY({anchor:"right",ticks:priceTicks,tickSize:3,tickPadding:5,tickFormat:d=>d.toFixed(2),stroke:"#fff",fill:"#fff",label:null,fontSize:12.5}),
    Plot.rect([lastPrice],{x1:310.4,x2:318.1,y1:d=>d-3.8,y2:d=>d+3.8,fill:"#fff"}),
    Plot.text([lastPrice],{x:311.2,y:d=>d,text:d=>d.toFixed(2),textAnchor:"start",fill:"#000",fontSize:12.5}),
    Plot.frame({stroke:"#fff"})
  ]
});
main.style.left="0";main.style.top="0";

function panel(runs,y1px,y0px,top,bottom,withAxis){
  const columns=runs.flatMap(([a,b,s])=>d3.range(a,b+1).map(i=>({i,s})));
  return Plot.plot({
    width:2559,height:withAxis?1240:bottom+1,marginTop:top,marginLeft:4,marginRight:72,marginBottom:withAxis?1240-bottom:1,
    x:xScale,
    y:{domain:[0,1],range:[y0px,y1px],axis:null},
    style:{background:"transparent",fontFamily:AXISFONT,fontSize:"12.5px",color:"#fff"},
    marks:[
      Plot.rect(columns,{x1:d=>d.i-0.5,x2:d=>d.i+0.375,y1:-0.3,y2:1.37,fill:d=>d.s?BULL2:BEAR}),
      Plot.axisY({anchor:"right",ticks:[0,1],tickSize:0,tickPadding:6,tickFormat:d=>String(d),stroke:"#fff",fill:"#fff",label:null,fontSize:12.5}),
      withAxis?Plot.axisX({anchor:"bottom",ticks:timeTickBars,tickSize:3,tickPadding:3,textAnchor:"start",tickFormat:d=>timeLabels[d/16],stroke:"#fff",fill:"#fff",label:null,fontSize:12.5,dx:-1}):null,
      Plot.frame({stroke:"#fff"})
    ]
  });
}
const p1=panel(panel1Runs,1125,1151,1113,1160,false);
const p2=panel(panel2Runs,1173,1198.5,1162,1207,true);

// ---- assemble the window ----
const page=document.getElementById("page");
page.innerHTML=`
<div style="left:0;top:0;width:2559px;height:5px;background:#f4f4f4;border-bottom:2px solid #a8a8a8"></div>
<div style="left:362px;top:0;width:6px;height:2px;background:#2fa84f"></div>
<svg style="left:0;top:7px" width="460" height="39" fill="none" stroke="#4d4d4d" stroke-width="2">
<line x1="3" y1="3" x2="3" y2="36" stroke="#aaa" stroke-dasharray="2 2"/>
<rect x="8.500" y="3.500" width="38" height="34" fill="#fafafa" stroke="#ddd" stroke-width="1"/>
<path d="M20 12 L20 33 L25 28 L29 37 L32 35 L28 26 L34 25 Z" transform="translate(0,-5)" fill="#444" stroke="none"/>
<path d="M67 10V22M67 28V38M56 25H64M70 25H79" transform="translate(0,-7)" stroke-width="1.600"/>
<line x1="91.500" y1="3" x2="91.500" y2="36" stroke="#aaa" stroke-width="1"/>
<path d="M114 13V38" transform="translate(0,-7)"/><path d="M147 18H165"/><path d="M187 30L206 10"/>
<path d="M227 28L246 8M231 32L250 12M228 18L244 24" stroke-width="1.800"/>
<path d="M269 11H289M269 15H289M269 19H289M269 23H283M269 27H283" stroke-dasharray="2 1" stroke-width="1.500"/>
<path d="M352 9H371V31H352Z" stroke-dasharray="2 1.500" stroke-width="1.500"/>
<path d="M391 13L398 6L404 13M402 23L409 30L416 23M396 17L402 22" stroke-width="2.500"/>
<path d="M421 16H431L426 22Z" fill="#000" stroke="none"/>
<line x1="440.500" y1="0" x2="440.500" y2="38" stroke="#aaa" stroke-width="1"/>
</svg>
<div style="left:313px;top:16px;font:bold 20px 'Liberation Sans';color:#444">A</div>
<div style="left:354px;top:16px;font:bold 18px 'Liberation Sans';color:#444">T</div>
<div style="left:241px;top:32px;font:bold 11px 'Liberation Sans';color:#444">E</div>
<div style="left:283px;top:32px;font:bold 11px 'Liberation Sans';color:#444">F</div>
<div style="left:3px;top:47px;width:2556px;height:1189px;background:#060606"></div>
<div style="left:0;top:1236px;width:2559px;height:1px;background:#ffffff"></div>
`;
page.append(main,p1,p2);
page.insertAdjacentHTML("beforeend",`
<svg style="left:8px;top:57px" width="12" height="7"><path d="M0 0H11L5.500 6Z" fill="#fff"/></svg>
<div style="left:26px;top:53px;font:14px 'Noto Sans';color:#fff;white-space:pre">XAUUSD,M15  4826.40 4832.07 4816.22 4819.45</div>
<svg style="left:1806px;top:49px" width="15" height="8"><path d="M0 0H14L7 7Z" fill="#0b7a0b"/></svg>
<svg style="left:5px;top:1198px" width="9" height="9"><path d="M0 0L8 8H0Z" fill="#0b6e0b"/></svg>
<div style="left:2377px;top:130px;width:93px;height:44px;overflow:visible"><span style="display:inline-block;transform-origin:0 0;transform:scaleX(.76);font:bold 60px/44px 'Liberation Sans';color:#90EE90;-webkit-text-stroke:1.5px #90EE90;white-space:nowrap">0:08</span></div>
<div style="left:2464px;top:1018px;transform:translateX(-100%);font:58px/42px 'Liberation Sans';color:#00FF00;white-space:nowrap">-0.6</div>
<div style="left:2435px;top:1065px;transform:translateX(-100%);font:22px/18px 'Liberation Sans';color:#00E020;white-space:nowrap">-22.3</div>
<div style="left:5px;top:1092px;width:80px;height:16px;border:2px solid #8a8a8a;background:#060606"></div>
<div style="left:11px;top:1091px;font:19px/22px 'Liberation Sans';color:#00FF00;white-space:nowrap">APB ON</div>
`);
const tabLeft=[23,163,303,444,597,736,871],seps=[147,288,427,580,718,860];
page.insertAdjacentHTML("beforeend",`<div style="left:0;top:1237px;width:2559px;height:10px;background:#f0f0f0"></div><div style="left:861px;top:1237px;width:139px;height:10px;background:#fff"></div>`);
tabNames.forEach((n,k)=>page.insertAdjacentHTML("beforeend",`<div class="tab" style="left:${tabLeft[k]}px;${k===6?"color:#222":""}">${n}</div>`));
seps.forEach(x=>page.insertAdjacentHTML("beforeend",`<div style="left:${x}px;top:1238px;width:1px;height:9px;background:#999"></div>`));
d3.range(10).forEach(c=>d3.range(5).forEach(r=>page.insertAdjacentHTML("beforeend",`<div class="wm" style="left:${122+250*c}px;top:${123+250*r}px">EAHub.cn</div>`)));
</script></body></html>
